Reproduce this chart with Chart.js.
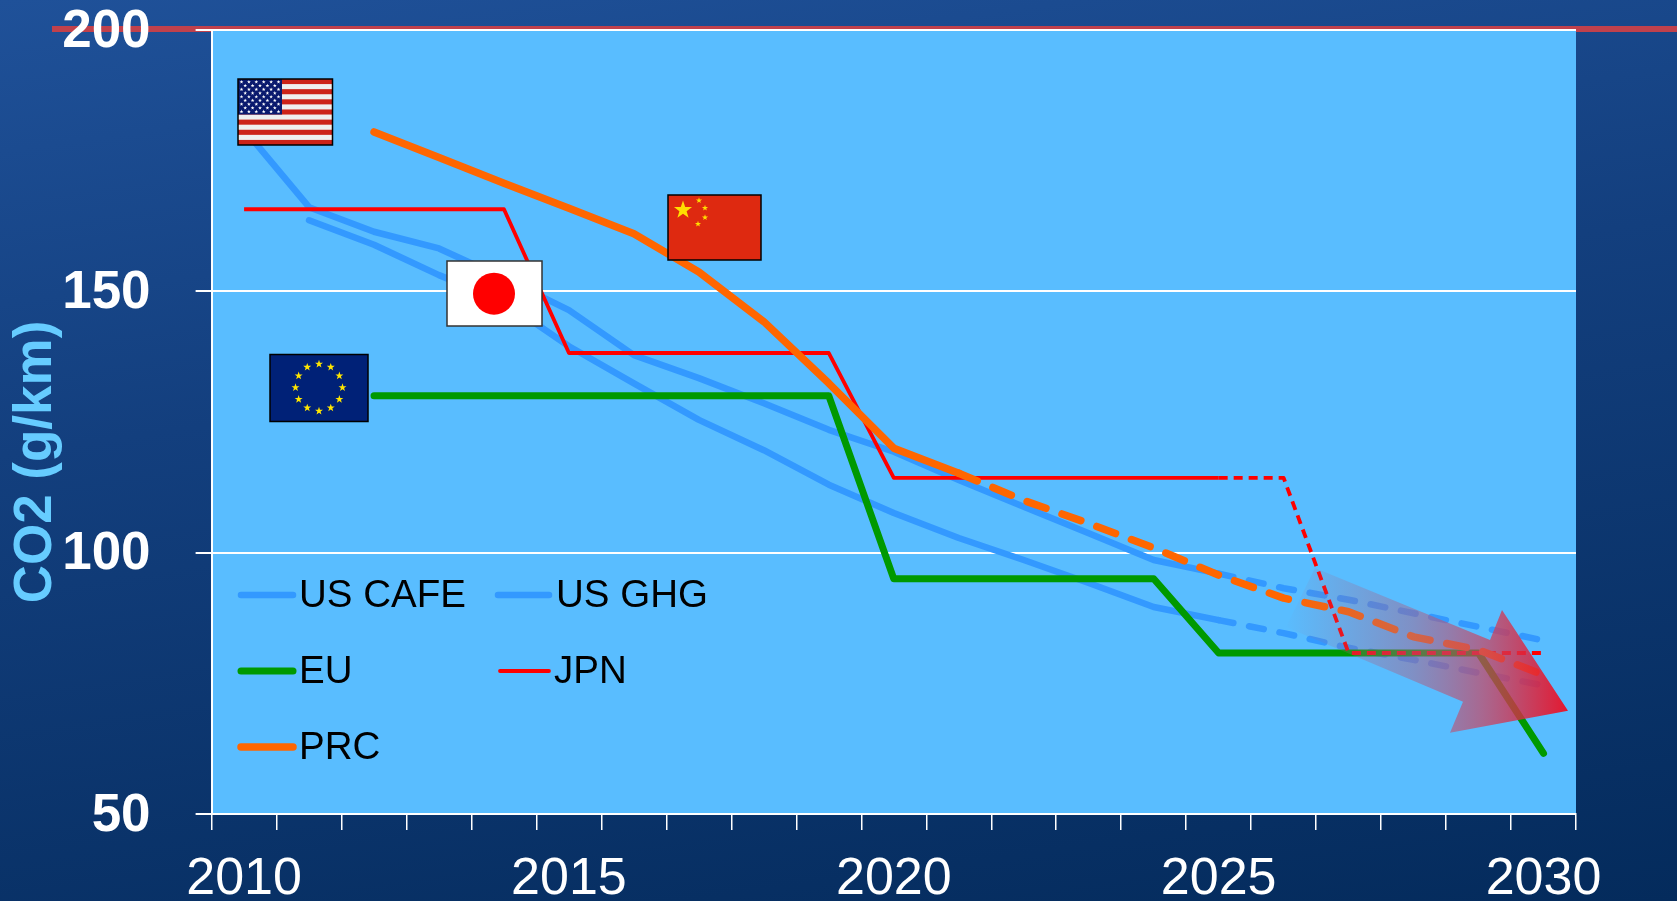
<!DOCTYPE html>
<html><head><meta charset="utf-8">
<style>
html,body{margin:0;padding:0;width:1677px;height:901px;overflow:hidden;background:linear-gradient(172deg,#1f5199 0%,#133f7e 40%,#042b5c 100%);}
#rule{position:absolute;left:52px;top:26px;width:1625px;height:6px;background:#c0414c;}
canvas{position:absolute;left:0;top:0;}
</style>
<script src="https://cdn.jsdelivr.net/npm/chart.js@4"></script>
</head><body><div id="rule"></div><canvas id="c" width="1677" height="901"></canvas>
<script>
const years=[2010,2011,2012,2013,2014,2015,2016,2017,2018,2019,2020,2021,2022,2023,2024,2025,2026,2027,2028,2029,2030];
const usCafe=[181,166.1,161.4,158.2,152.5,146.4,137.8,133.4,128.6,123.5,119.3,113.9,108.8,103.7,98.6,96,93.2,91,88.4,85.8,83.2];
const usGhg=[null,163.6,158.9,153.1,148,139.5,132.4,125.4,119.6,113,107.6,102.8,98.6,94.2,89.6,87.1,84.6,81.8,79.5,77,74.6];
const eu=[null,null,130,130,130,130,130,130,130,130,95,95,95,95,95,80.8,80.8,80.8,80.8,80.8,61.6];
const jpn=[165.7,165.7,165.7,165.7,165.7,138.2,138.2,138.2,138.2,138.2,114.3,114.3,114.3,114.3,114.3,114.3,114.3,80.8,80.8,80.8,80.8];
const prc=[null,null,180.5,175.6,170.7,165.9,161,153.7,144.2,132.4,120,115.2,110,105.6,100.9,95.7,91.3,88.7,83.9,81.4,76.6];
const seriesNames=['US CAFE','US GHG','EU','JPN','PRC'];
const yTicks=[50,100,150,200];
const axisTitle='CO2 (g/km)';
const FONT='"Liberation Sans"';
const BLUE='#3399ff',GREEN='#009900',RED='#ff0000',ORANGE='#ff6600';

function dashFrom(idx,dash){return {borderDash:c=>c.p0DataIndex>=idx?dash:undefined};}

function star(g,x,y,r,col,rot){
  g.fillStyle=col;g.beginPath();
  for(let i=0;i<10;i++){const a=(rot||0)-Math.PI/2+i*Math.PI/5,q=i%2?r*0.4:r;
    g.lineTo(x+q*Math.cos(a),y+q*Math.sin(a));}
  g.closePath();g.fill();
}
function frame(g,x,y,w,h,col){g.strokeStyle=col||'#000';g.lineWidth=1.5;g.strokeRect(x,y,w,h);}
function usFlag(g){
  const x=238,y=79,w=94.5,h=66;
  g.fillStyle='#efefef';g.fillRect(x,y,w,h);
  g.fillStyle='#cc2319';
  for(let i=0;i<13;i+=2)g.fillRect(x,y+i*h/13,w,h/13);
  g.fillStyle='#0a1a6e';g.fillRect(x,y,44,35.5);
  for(let r=0;r<9;r++){const n=r%2?5:6;for(let k=0;k<n;k++){
    star(g,x+3.5+(r%2?3.7:0)+k*7.4,y+3+r*3.7,2,'#fff');}}
  frame(g,x,y,w,h);
}
function jpFlag(g){
  const x=447,y=261,w=95,h=65;
  g.fillStyle='#fff';g.fillRect(x,y,w,h);
  g.fillStyle='#ff0000';g.beginPath();g.arc(494,293.7,21,0,Math.PI*2);g.fill();
  frame(g,x,y,w,h,'#333');
}
function cnFlag(g){
  const x=668,y=195,w=93,h=65;
  g.fillStyle='#de2910';g.fillRect(x,y,w,h);
  star(g,683,210,9.5,'#ffde00');
  [[699,200.5],[705,208],[705,217.5],[698,224]].forEach(p=>star(g,p[0],p[1],3.2,'#ffde00'));
  frame(g,x,y,w,h);
}
function euFlag(g){
  const x=270,y=354.5,w=98,h=67;
  g.fillStyle='#002177';g.fillRect(x,y,w,h);
  for(let i=0;i<12;i++){const a=i*Math.PI/6;
    star(g,319+23.5*Math.sin(a),387.5-23.5*Math.cos(a),4.2,'#ffe600');}
  frame(g,x,y,w,h);
}
const decor={id:'decor',
  beforeDraw(ch){const g=ch.ctx,a=ch.chartArea;g.save();g.fillStyle='#59bdff';g.fillRect(a.left,a.top,a.right-a.left,a.bottom-a.top);g.restore();},
  afterDatasetsDraw(ch){
    const g=ch.ctx;g.save();
    const gr=g.createLinearGradient(1284,0,1568,0);
    gr.addColorStop(0,'rgba(165,100,140,0)');
    gr.addColorStop(0.45,'rgba(165,100,140,0.5)');
    gr.addColorStop(0.7,'rgba(200,70,100,0.72)');
    gr.addColorStop(1,'rgba(240,10,30,0.92)');
    g.fillStyle=gr;g.beginPath();
    [[1315,568],[1490,640],[1502,610],[1568,710.7],[1450,732.7],[1463,701.7],[1286,627]].forEach((p,i)=>i?g.lineTo(p[0],p[1]):g.moveTo(p[0],p[1]));
    g.closePath();g.fill();
    usFlag(g);jpFlag(g);cnFlag(g);euFlag(g);
    const ds=ch.data.datasets;
    const slots=[[238,296,299,596],[495,552,556,596],[238,296,299,672],[497,552,554,672],[238,296,299,748]];
    ds.forEach((d,i)=>{const s=slots[i];
      g.strokeStyle=d.borderColor;g.lineWidth=d.borderWidth;g.lineCap='round';
      g.beginPath();g.moveTo(s[0]+3,s[3]-1);g.lineTo(s[1]-3,s[3]-1);g.stroke();
      g.fillStyle='#000';g.font='38.5px '+FONT;g.textAlign='left';g.textBaseline='middle';
      g.fillText(d.label,s[2],s[3]);
    });
    g.translate(36,462);g.rotate(-Math.PI/2);
    g.fillStyle='#66ccff';g.font='bold 53px '+FONT;g.textAlign='center';g.textBaseline='middle';
    g.fillText(axisTitle,0,0);
    g.restore();
  }};

new Chart(document.getElementById('c'),{
  type:'line',
  data:{labels:years,datasets:[
    {label:seriesNames[0],data:usCafe,borderColor:BLUE,borderWidth:6.5,order:5,segment:dashFrom(15,[15,16])},
    {label:seriesNames[1],data:usGhg,borderColor:BLUE,borderWidth:6.5,order:4,segment:dashFrom(15,[15,16])},
    {label:seriesNames[2],data:eu,borderColor:GREEN,borderWidth:7,order:3},
    {label:seriesNames[3],data:jpn,borderColor:RED,borderWidth:3.8,order:2,segment:dashFrom(15,[9,6])},
    {label:seriesNames[4],data:prc,borderColor:ORANGE,borderWidth:7.5,order:1,segment:dashFrom(11,[20,17])}
  ].map(d=>Object.assign({pointRadius:0,tension:0,fill:false,spanGaps:false,borderCapStyle:d.label==='JPN'?'butt':'round',borderJoinStyle:'round'},d))},
  options:{
    responsive:false,animation:false,devicePixelRatio:1,
    layout:{padding:{left:0,right:101,top:30,bottom:0}},
    plugins:{legend:{display:false},tooltip:{enabled:false}},
    scales:{
      x:{type:'category',offset:true,
        afterFit:s=>{s.height=87;s.paddingLeft=0;s.paddingRight=0;},
        grid:{offset:true,drawOnChartArea:false,color:'#ffffff',lineWidth:1.5,tickLength:16,tickColor:'#ffffff'},
        border:{color:'#ffffff',width:2},
        ticks:{autoSkip:false,maxRotation:0,minRotation:0,color:'#ffffff',padding:18,font:{family:FONT,size:52},
          callback(v,i){const y=years[i];return y%5===0?String(y):'';}}},
      y:{min:yTicks[0],max:yTicks[yTicks.length-1],
        afterFit:s=>{s.width=211.6;s.paddingTop=0;s.paddingBottom=0;},
        afterBuildTicks:s=>{s.ticks=yTicks.map(v=>({value:v}));},
        grid:{color:'#ffffff',lineWidth:2,tickLength:16,tickColor:'#ffffff'},
        border:{color:'#ffffff',width:2},
        ticks:{color:'#ffffff',padding:45,labelOffset:2,font:{family:FONT,size:53,weight:'bold'}}}
    }
  },
  plugins:[decor]
});
</script></body></html>
